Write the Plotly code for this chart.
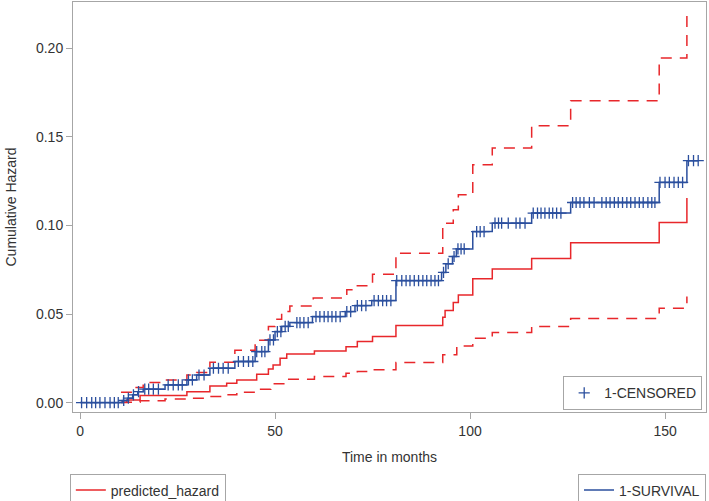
import numpy as np
import plotly.graph_objects as go

# 1-SURVIVAL step function (time in months, cumulative hazard)
surv_t = [0, 10.9, 12.2, 13.5, 14.8, 16.2, 21.8, 27.4, 29.9, 33.3, 39.7, 44.9, 48.3, 50.0, 51.7,
          53.8, 59.6, 68.0, 70.5, 74.8, 81.0, 92.7, 93.8, 95.5, 96.5, 100.7, 105.7, 115.8, 125.8,
          148.5, 155.6, 158.5]
surv_v = [0, 0.0012, 0.0025, 0.0044, 0.0062, 0.0076, 0.0100, 0.0128, 0.0156, 0.0194, 0.0232,
          0.0288, 0.0354, 0.0401, 0.0430, 0.0452, 0.0486, 0.0514, 0.0548, 0.0576, 0.0689, 0.0735,
          0.0784, 0.0825, 0.0868, 0.0966, 0.1013, 0.1070, 0.1130, 0.1243, 0.1366, 0.1366]

# censoring times
censor_t = [0.4, 1.7, 3.0, 4.0, 5.1, 6.4, 7.7, 8.8, 9.8, 11.2, 12.4, 13.7, 15.0, 16.6, 17.6, 18.8,
            20.1, 22.6, 23.9, 25.2, 26.2, 27.8, 28.8, 30.5, 31.8, 34.2, 35.5, 36.7, 38.0, 40.6,
            41.9, 43.2, 44.3, 45.3, 46.6, 47.4, 48.7, 49.6, 50.6, 51.5, 52.6, 53.4, 55.6, 56.4,
            57.4, 58.5, 60.5, 61.5, 62.6, 63.6, 64.6, 65.6, 66.7, 68.4, 69.4, 71.1, 72.2, 73.3,
            75.4, 76.5, 77.6, 78.6, 79.7, 81.2, 82.5, 83.6, 84.6, 85.7, 86.8, 87.9, 88.9, 90.0,
            91.0, 91.9, 93.2, 94.4, 95.9, 96.9, 97.7, 98.5, 101.7, 102.6, 103.6, 106.4, 107.3,
            108.1, 109.8, 111.8, 112.8, 114.1, 116.2, 117.3, 118.2, 119.2, 120.3, 121.2, 122.2,
            123.3, 126.3, 127.2, 128.2, 129.2, 130.6, 131.8, 133.8, 134.9, 135.9, 137.0, 138.0,
            139.1, 140.2, 141.2, 142.3, 143.4, 144.4, 145.6, 146.6, 147.4, 148.7, 150.0, 151.1,
            152.3, 153.4, 154.5, 156.0, 157.3, 158.5]

# predicted hazard and its confidence limits
pred_t = [10.5, 12.0, 15.4, 27.4, 33.3, 37.6, 40.2, 45.3, 48.3, 49.5, 51.3, 53.0, 60.1, 68.2,
          71.1, 75.0, 81.0, 93.0, 93.6, 95.7, 97.0, 100.7, 105.7, 115.8, 125.8, 148.5, 155.6]
pred_v = [0, 0.0015, 0.0040, 0.0062, 0.0094, 0.0110, 0.0128, 0.0160, 0.0190, 0.0213, 0.0251,
          0.0275, 0.0292, 0.0316, 0.0345, 0.0373, 0.0435, 0.0482, 0.0520, 0.0565, 0.0608,
          0.0700, 0.0754, 0.0814, 0.0902, 0.1017, 0.1155]

upper_t = [10.5, 13.7, 16.2, 21.8, 27.4, 29.9, 33.3, 39.7, 44.9, 48.3, 50.0, 51.7, 53.8, 59.8,
           68.4, 71.1, 75.0, 81.0, 93.0, 95.7, 97.0, 100.7, 105.7, 115.8, 125.8, 148.5, 155.6]
upper_v = [0.0059, 0.0085, 0.0113, 0.0128, 0.0156, 0.0170, 0.0228, 0.0296, 0.0352, 0.0430,
           0.0470, 0.0514, 0.0546, 0.0590, 0.0637, 0.0660, 0.0725, 0.0844, 0.1013, 0.1089,
           0.1173, 0.1343, 0.1437, 0.1563, 0.1704, 0.1946, 0.2210]

lower_t = [10.5, 15.4, 21.8, 27.4, 33.3, 37.6, 40.2, 45.3, 48.9, 53.0, 60.1, 68.2, 71.1, 75.0,
           81.0, 93.0, 96.6, 100.7, 105.7, 115.8, 125.8, 148.5, 155.6]
lower_v = [0.0002, 0.0010, 0.0020, 0.0025, 0.0034, 0.0045, 0.0059, 0.0076, 0.0106, 0.0132,
           0.0147, 0.0166, 0.0175, 0.0185, 0.0226, 0.0270, 0.0320, 0.0364, 0.0396, 0.0430,
           0.0475, 0.0533, 0.0599]

x_ticks = [0, 50, 100, 150]
y_ticks = [0.00, 0.05, 0.10, 0.15, 0.20]

RED = "#E8272B"
BLUE = "#2B4F9E"
GREY = "#A6A6A6"
TXT = "#333333"
FONT = "Liberation Sans, Arial, sans-serif"

# y of censor marks
idx = np.searchsorted(np.array(surv_t), np.array(censor_t), side="right") - 1
censor_v = np.array(surv_v)[idx]

fig = go.Figure()
fig.add_trace(go.Scatter(x=upper_t, y=upper_v, mode="lines", line_shape="hv",
                         line=dict(color=RED, width=1.5, dash="11px,8px"),
                         showlegend=False, hoverinfo="skip"))
fig.add_trace(go.Scatter(x=lower_t, y=lower_v, mode="lines", line_shape="hv",
                         line=dict(color=RED, width=1.5, dash="11px,8px"),
                         showlegend=False, hoverinfo="skip"))
fig.add_trace(go.Scatter(x=pred_t, y=pred_v, mode="lines", line_shape="hv",
                         line=dict(color=RED, width=1.5), name="predicted_hazard",
                         legend="legend"))
fig.add_trace(go.Scatter(x=surv_t, y=surv_v, mode="lines", line_shape="hv",
                         line=dict(color=BLUE, width=1.5), name="1-SURVIVAL",
                         legend="legend2"))
fig.add_trace(go.Scatter(x=censor_t, y=censor_v, mode="markers",
                         marker=dict(symbol="cross-thin", size=8,
                                     line=dict(color=BLUE, width=1.3), color=BLUE),
                         name="1-CENSORED", legend="legend3"))

axis_common = dict(showgrid=False, zeroline=False, showline=True, linecolor=GREY,
                   linewidth=1, mirror=True, ticks="outside", tickcolor=GREY, ticklen=6,
                   tickfont=dict(family=FONT, size=14, color=TXT))

legend_common = dict(bgcolor="white", bordercolor=GREY, borderwidth=1, itemwidth=30,
                     font=dict(family=FONT, size=14, color=TXT))

fig.update_layout(
    width=709, height=501,
    margin=dict(l=73, r=3, t=2, b=89, autoexpand=False),
    paper_bgcolor="white", plot_bgcolor="white",
    font=dict(family=FONT, size=14, color=TXT),
    xaxis=dict(range=[-1.8, 160.5], tickvals=x_ticks, ticktext=[str(v) for v in x_ticks],
               title=dict(text="Time in months", font=dict(family=FONT, size=14, color=TXT),
                          standoff=14),
               **axis_common),
    yaxis=dict(range=[-0.0053, 0.2262], tickvals=y_ticks,
               ticktext=[f"{v:.2f}" for v in y_ticks],
               title=dict(text="Cumulative Hazard", font=dict(family=FONT, size=14, color=TXT),
                          standoff=16),
               **axis_common),
    legend=dict(x=-0.005, y=-0.150, xanchor="left", yanchor="top", **legend_common),
    legend2=dict(x=1.0, y=-0.150, xanchor="right", yanchor="top", **legend_common),
    legend3=dict(x=0.994, y=0.004, xanchor="right", yanchor="bottom", **legend_common),
)

fig.write_html("out.html", config={"displayModeBar": False},
               post_script="document.body.style.margin='0px';")
